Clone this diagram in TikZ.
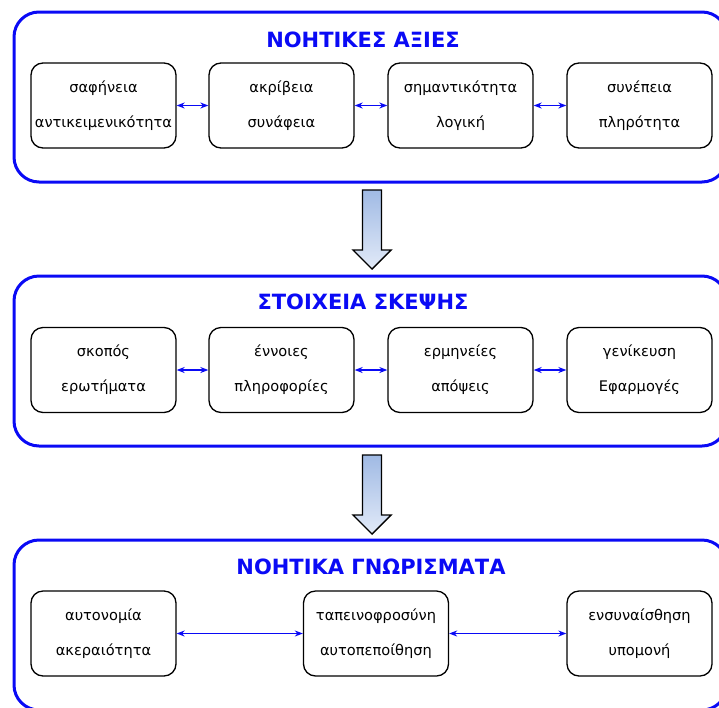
\documentclass[tikz,border=0pt]{standalone}
\usepackage{fontspec}
\setmainfont{DejaVu Sans}
\usetikzlibrary{arrows.meta}
\definecolor{framecol}{RGB}{10,10,245}
\definecolor{shadetop}{RGB}{160,186,228}
\definecolor{shadebot}{RGB}{226,234,248}
\tikzset{
  groupbox/.style={draw=framecol, line width=3pt, rounded corners=25pt,
    minimum width=713pt, minimum height=170pt, inner sep=0pt},
  grouptitle/.style={text=framecol, font=\fontsize{21}{24}\selectfont\bfseries, inner sep=0pt},
  itembox/.style={draw=black, line width=1.3pt, rounded corners=12pt,
    minimum width=145pt, minimum height=85pt, inner sep=0pt, align=center,
    font=\fontsize{14.6}{35}\selectfont},
  link/.style={draw=framecol, line width=1.3pt,
    {Stealth[length=8pt,width=6pt,inset=2.5pt]}-{Stealth[length=8pt,width=6pt,inset=2.5pt]}},
  flowarrow/.style={draw=black, line width=1.4pt, line join=miter,
    top color=shadetop, bottom color=shadebot}
}
\begin{document}
\begin{tikzpicture}[x=1pt, y=-1pt]
\path[use as bounding box, clip] (0,0) rectangle (719,707);

% first group
\node[groupbox] (g1) at (370.5,97) {};
\node[grouptitle] (t1) at (363,40) {ΝΟΗΤΙΚΕΣ ΑΞΙΕΣ};
\node[itembox] (a1) at (103.5,105.5) {σαφήνεια\\αντικειμενικότητα};
\node[itembox] (a2) at (281.5,105.5) {ακρίβεια\\συνάφεια};
\node[itembox] (a3) at (460.5,105.5) {σημαντικότητα\\λογική};
\node[itembox] (a4) at (639.5,105.5) {συνέπεια\\πληρότητα};
\draw[link] (a1) -- (a2);
\draw[link] (a2) -- (a3);
\draw[link] (a3) -- (a4);

% second group
\node[groupbox] (g2) at (370.5,361) {};
\node[grouptitle] (t2) at (363,302) {ΣΤΟΙΧΕΙΑ ΣΚΕΨΗΣ};
\node[itembox] (b1) at (103.5,370) {σκοπός\\ερωτήματα};
\node[itembox] (b2) at (281.5,370) {έννοιες\\πληροφορίες};
\node[itembox] (b3) at (460.5,370) {ερμηνείες\\απόψεις};
\node[itembox] (b4) at (639.5,370) {γενίκευση\\Εφαρμογές};
\draw[link] (b1) -- (b2);
\draw[link] (b2) -- (b3);
\draw[link] (b3) -- (b4);

% third group
\node[groupbox] (g3) at (370.5,625) {};
\node[grouptitle] (t3) at (371,567) {ΝΟΗΤΙΚΑ ΓΝΩΡΙΣΜΑΤΑ};
\node[itembox] (c1) at (103.5,633.5) {αυτονομία\\ακεραιότητα};
\node[itembox] (c2) at (376,633.5) {ταπεινοφροσύνη\\αυτοπεποίθηση};
\node[itembox] (c3) at (639.5,633.5) {ενσυναίσθηση\\υπομονή};
\draw[link] (c1) -- (c2);
\draw[link] (c2) -- (c3);

% block arrows between the groups
\coordinate (f1) at (372,190);
\coordinate (f2) at (372,455);
\foreach \f in {f1,f2}{
  \path[flowarrow] (\f) ++(-9.5,0) -- ++(0,60) -- ++(-9.5,0) -- ++(19,19)
    -- ++(19,-19) -- ++(-9.5,0) -- ++(0,-60) -- cycle;
}
\end{tikzpicture}
\end{document}
